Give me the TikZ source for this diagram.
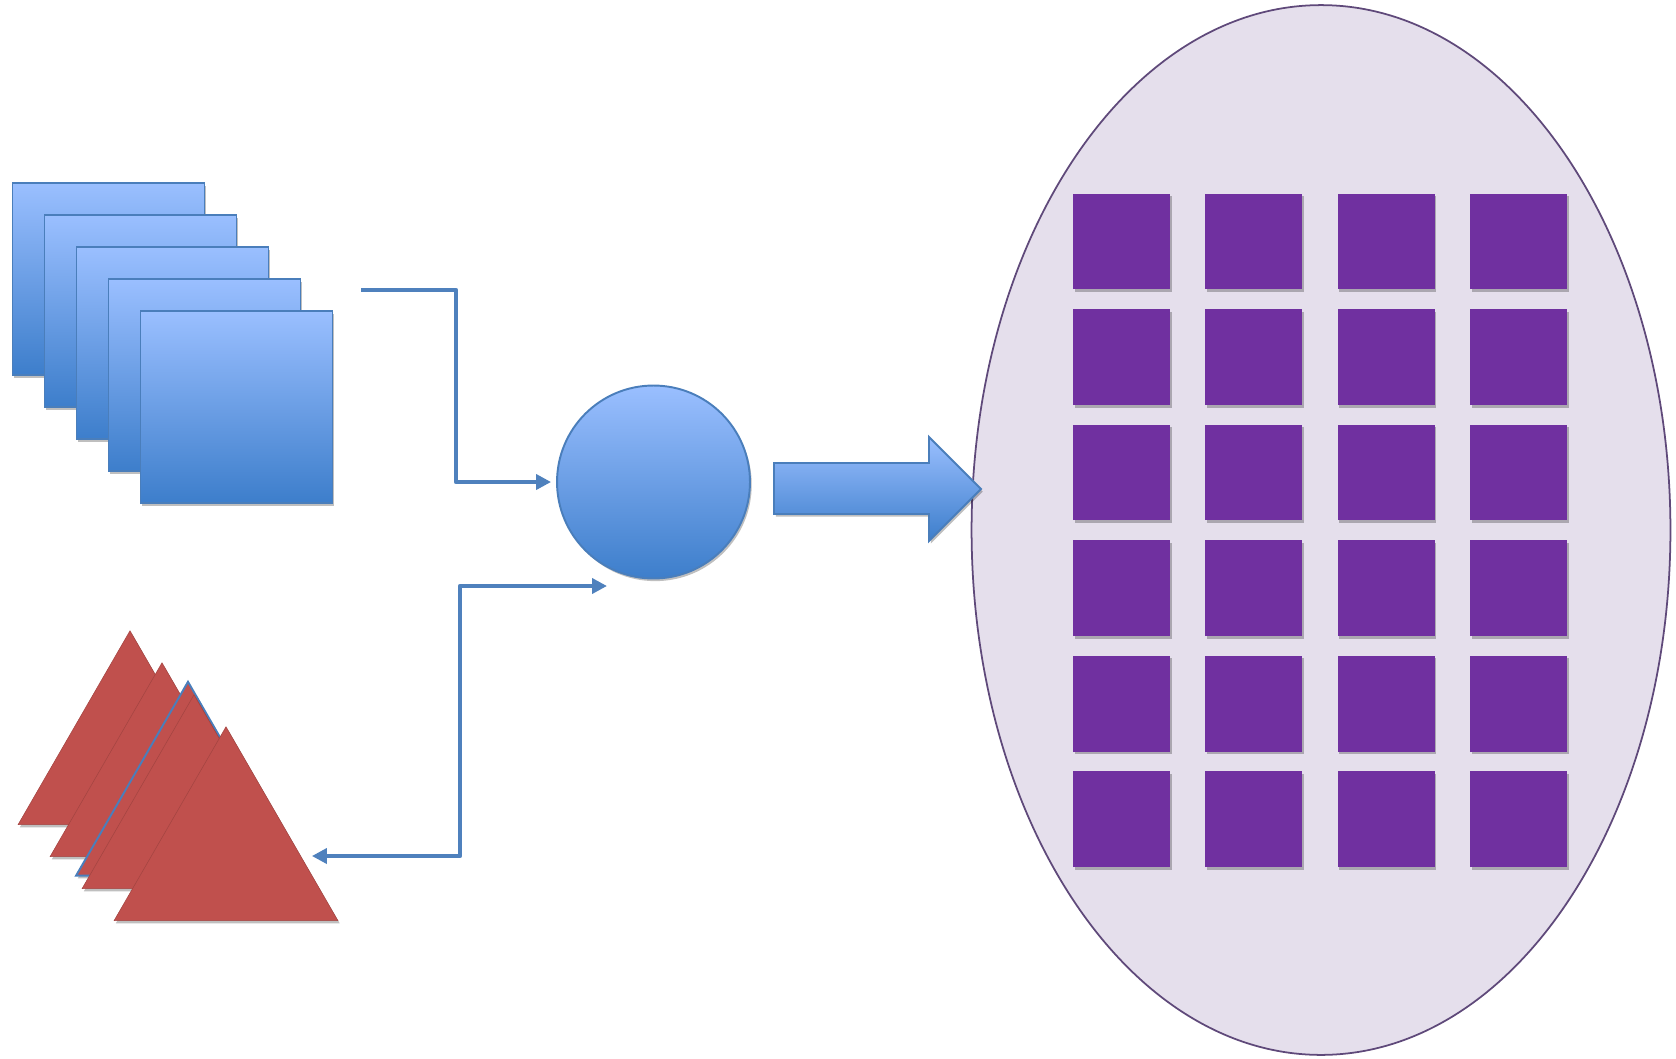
\documentclass[tikz,border=0pt]{standalone}
\usetikzlibrary{shapes.geometric, arrows.meta, shadows}

\definecolor{lightblue}{RGB}{154,191,255}
\definecolor{darkblue}{RGB}{61,126,203}
\definecolor{blueline}{RGB}{74,126,187}
\definecolor{connblue}{RGB}{79,129,189}
\definecolor{trired}{RGB}{192,80,77}
\definecolor{cellpurple}{RGB}{112,48,160}
\definecolor{ovalfill}{RGB}{229,223,236}
\definecolor{ovalline}{RGB}{95,73,122}

\tikzset{
  softshadow/.style={drop shadow={shadow xshift=1pt, shadow yshift=-1.5pt, opacity=0.25, fill=black}},
  bluesq/.style={draw=blueline, line width=1.1pt, top color=lightblue, bottom color=darkblue,
    minimum width=3.84cm, minimum height=3.84cm, inner sep=0pt, softshadow},
  redtri/.style={regular polygon, regular polygon sides=3, fill=trired, draw=trired!85!black,
    line width=0.3pt, minimum size=5.17cm, inner sep=0pt, softshadow},
  cell/.style={fill=cellpurple, minimum width=1.94cm, minimum height=1.92cm, inner sep=0pt, softshadow},
  conn/.style={draw=connblue, line width=2.6pt, line join=round, >={Triangle[length=8.5pt, width=8.5pt]}}
}

\begin{document}
\begin{tikzpicture}[x=0.02cm, y=-0.02cm]
        \useasboundingbox (0,0) rectangle (1676,1058);

        % Oval holding the grid of cells
        \node[ellipse, draw=ovalline, line width=1pt, fill=ovalfill, minimum width=13.98cm,
              minimum height=21cm, inner sep=0pt] (oval) at (1321,530) {};
        \foreach \r in {0,...,5}
          \foreach \c in {0,...,3}
            \node[cell] (cell\r\c) at (1121.5+132.3*\c, 241.5+115.5*\r) {};

        % Stack of blue squares
        \foreach \i in {0,...,4}
          \node[bluesq] (sq\i) at (108.5+32*\i, 279+32*\i) {};

        % Stack of red triangles
        \node[redtri] (tri0) at (130,760) {};
        \node[redtri] (tri1) at (162,792) {};
        \node[redtri, draw=blueline, line width=1.1pt] (tri2) at (188,811) {};
        \node[redtri] (tri3) at (194,824) {};
        \node[redtri] (tri4) at (226,856) {};

        % Circle in the middle
        \node[circle, draw=blueline, line width=1.1pt, top color=lightblue, bottom color=darkblue,
              minimum size=3.86cm, inner sep=0pt, softshadow] (circ) at (653.5,482) {};

        % Block arrow towards the oval
        \draw[blueline, line width=1.1pt, top color=lightblue, bottom color=darkblue, softshadow]
          (774,463) -- (929,463) -- (929,437) -- (981,489) -- (929,541) -- (929,514) -- (774,514) -- cycle;

        % Connectors
        \coordinate (topstart) at (361,290);
        \coordinate (botend) at ([shift={(-46.5,104)}]circ.center);
        \draw[conn, ->] (topstart) -- ++(95,0) |- ([xshift=-0.1cm]circ.west);
        \draw[conn, <->] ([xshift=0.22cm]tri4.east) -| ++(148,-270) -- (botend);
    \end{tikzpicture}
\end{document}
